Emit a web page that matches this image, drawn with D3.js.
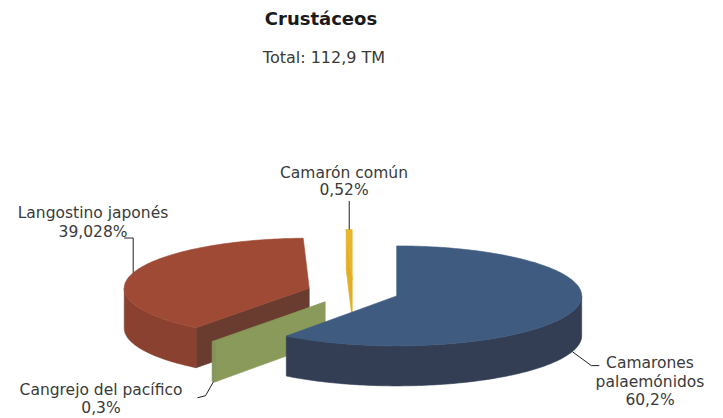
<!DOCTYPE html>
<html>
<head>
<meta charset="utf-8">
<script src="https://cdn.jsdelivr.net/npm/d3@7"></script>
<style>
body { margin: 0; background: #fff; }
</style>
</head>
<body>
<div id="chart"></div>
<script>
// data
var categories = ["Camarones palaemónidos", "Cangrejo del pacífico", "Langostino japonés", "Camarón común"];
var shares = [60.2, 0.3, 39.028, 0.52];
var shareLabels = ["60,2%", "0,3%", "39,028%", "0,52%"];
var chartTitle = "Crustáceos";
var chartSubtitle = "Total: 112,9 TM";

// settings
var width = 723, height = 418;
var cx = 353, cy = 292, rx = 185, ry = 50, depth = 40, explode = 46;
var k = ry / rx;
var topColors  = ["#3f5b80", "#8a9a5a", "#9e4a35", "#e8b62c"];
var sideColors = ["#333e55", "#84945a", "#8b412f", "#c99a1e"];
var wallColors = ["#2f3a4e", "#8a9a5a", "#6a3c30", "#e2ae24"];

// label layout: lines centred on x, first baseline y, leader goes to top or bottom edge
var labelLayout = [
  {x: 650, y: 368, lh: 18.5, lines: ["Camarones", "palaemónidos"], edge: "bottom", leader: function(a) { return [a, [a[0] + 19, a[1] + 14], [a[0] + 27, a[1] + 14]]; }},
  {x: 101, y: 395, lh: 18, lines: ["Cangrejo del pacífico"], edge: "bottom", leader: function(a) { return [a, [a[0] - 8, a[1] + 14], [a[0] - 16, a[1] + 16]]; }},
  {x: 93, y: 218, lh: 19, lines: ["Langostino japonés"], edge: "top", leader: function(a) { return [a, [a[0], 238], [a[0] - 9, 238]]; }},
  {x: 344, y: 178, lh: 17, lines: ["Camarón común"], edge: "top", leader: function(a) { return [a, [a[0], 201]]; }}
];

var svg = d3.select("#chart")
  .append("svg")
  .attr("width", width)
  .attr("height", height);

var pie = d3.pie().sort(null).value(function(d) { return d; });
var arcs = pie(shares);

function pt(c, a, r) {
  return [c[0] + r * Math.sin(a), c[1] - r * k * Math.cos(a)];
}
function down(p) { return [p[0], p[1] + depth]; }
function arcPoints(c, a0, a1) {
  var n = Math.max(2, Math.ceil((a1 - a0) / 0.02));
  return d3.range(n + 1).map(function(i) { return pt(c, a0 + (a1 - a0) * i / n, rx); });
}
var line = d3.line();

var slices = arcs.map(function(d, i) {
  var mid = (d.startAngle + d.endAngle) / 2;
  return {i: i, d: d, c: pt([cx, cy], mid, explode), mid: mid};
});

// back to front: yellow, red, green, blue
var order = [3, 2, 1, 0];
var gPie = svg.append("g");

order.forEach(function(i) {
  var s = slices[i], d = s.d, c = s.c;
  var g = gPie.append("g");
  var walls = [];
  if (Math.sin(d.startAngle) < -1e-9) walls.push(d.startAngle);
  if (Math.sin(d.endAngle) > 1e-9) walls.push(d.endAngle);
  walls.forEach(function(a) {
    var p = pt(c, a, rx);
    g.append("path")
      .attr("d", line([c, p, down(p), down(c)]) + "Z")
      .attr("fill", wallColors[i])
      .attr("stroke", wallColors[i])
      .attr("stroke-width", 0.6)
      .attr("stroke-linejoin", "round");
  });
  var a0 = Math.max(d.startAngle, Math.PI / 2), a1 = Math.min(d.endAngle, 3 * Math.PI / 2);
  if (a0 < a1) {
    var topArc = arcPoints(c, a0, a1);
    var botArc = topArc.map(down).reverse();
    g.append("path")
      .attr("d", line(topArc.concat(botArc)) + "Z")
      .attr("fill", sideColors[i])
      .attr("stroke", sideColors[i])
      .attr("stroke-width", 0.6);
  }
  g.append("path")
    .attr("d", line([c].concat(arcPoints(c, d.startAngle, d.endAngle))) + "Z")
    .attr("fill", topColors[i])
    .attr("stroke", topColors[i])
    .attr("stroke-width", 0.6)
    .attr("stroke-linejoin", "round");
});

// labels and leader lines
var gLab = svg.append("g")
  .attr("font-family", "DejaVu Sans, sans-serif")
  .attr("font-size", 15.5)
  .attr("fill", "#3a3a3a");

slices.forEach(function(s, i) {
  var L = labelLayout[i];
  var a = pt(s.c, s.mid, rx);
  if (L.edge === "bottom") a = down(a);
  gLab.append("path")
    .attr("d", line(L.leader(a)))
    .attr("fill", "none")
    .attr("stroke", "#222")
    .attr("stroke-width", 1);
  var t = gLab.append("text")
    .attr("text-anchor", "middle");
  L.lines.concat([shareLabels[i]]).forEach(function(txt, j) {
    t.append("tspan")
      .attr("x", L.x)
      .attr("y", L.y + j * L.lh)
      .text(txt);
  });
});

// title
svg.append("text")
  .attr("x", 321)
  .attr("y", 25)
  .attr("text-anchor", "middle")
  .attr("font-family", "DejaVu Sans, sans-serif")
  .attr("font-weight", "bold")
  .attr("font-size", 18)
  .attr("fill", "#1a1a1a")
  .text(chartTitle);

svg.append("text")
  .attr("x", 324)
  .attr("y", 63)
  .attr("text-anchor", "middle")
  .attr("font-family", "DejaVu Sans, sans-serif")
  .attr("font-size", 16)
  .attr("fill", "#3a3a3a")
  .text(chartSubtitle);
</script>
</body>
</html>
